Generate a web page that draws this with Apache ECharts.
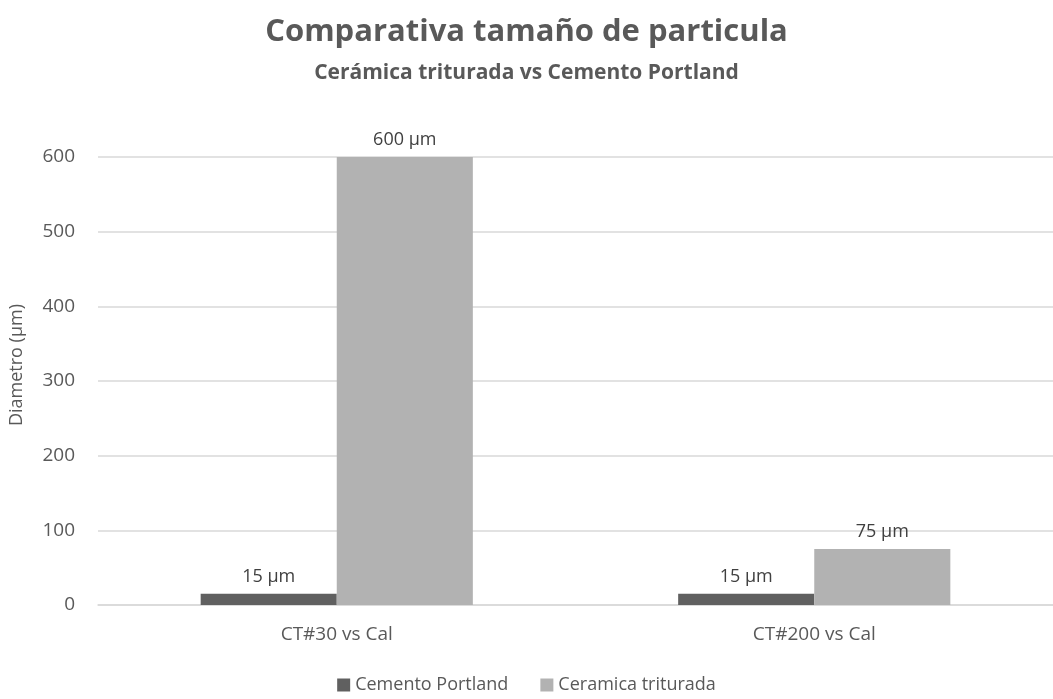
<!DOCTYPE html>
<html>
<head>
<meta charset="utf-8">
<script src="https://cdn.jsdelivr.net/npm/echarts@6/dist/echarts.min.js"></script>
<style>
  html, body { margin: 0; padding: 0; background: #fff; }
  #chart { width: 1053px; height: 699px; }
</style>
</head>
<body>
<div id="chart"></div>
<script>
// datos
const categories = ['CT#30 vs Cal', 'CT#200 vs Cal']
const cementoPortland = [15, 15]
const ceramicaTriturada = [600, 75]
const yTicks = [0, 100, 200, 300, 400, 500, 600]

const font = '"Open Sans", "Liberation Sans", sans-serif'
const labelStyle = {
  show: true,
  position: 'top',
  distance: 8,
  formatter: '{c} µm',
  color: '#404040',
  fontSize: 18,
  fontFamily: font
}

const chart = echarts.init(document.getElementById('chart'))
chart.setOption({
  animation: false,
  textStyle: { fontFamily: font },
  title: [{
    text: 'Comparativa tamaño de particula',
    left: 'center',
    top: 12,
    textStyle: { color: '#595959', fontSize: 31, fontWeight: 'bold', fontFamily: font }
  }, {
    text: 'Cerámica triturada vs Cemento Portland',
    left: 'center',
    top: 58,
    textStyle: { color: '#595959', fontSize: 21, fontWeight: 'bold', fontFamily: font }
  }],
  legend: {
    bottom: 0,
    left: 'center',
    itemWidth: 13,
    itemHeight: 13,
    itemGap: 32,
    icon: 'rect',
    textStyle: { color: '#595959', fontSize: 18, fontFamily: font },
    data: ['Cemento Portland', 'Ceramica triturada']
  },
  grid: {
    left: 98,
    right: 0,
    top: 157,
    bottom: 94
  },
  xAxis: {
    type: 'category',
    data: categories,
    axisLine: { lineStyle: { color: '#d9d9d9', width: 1.5 } },
    axisTick: { show: false },
    axisLabel: { color: '#595959', fontSize: 19, margin: 20, fontFamily: font }
  },
  yAxis: {
    type: 'value',
    min: yTicks[0],
    max: yTicks[yTicks.length - 1],
    interval: 100,
    name: 'Diametro (µm)',
    nameLocation: 'middle',
    nameGap: 72,
    nameTextStyle: { color: '#595959', fontSize: 18, fontFamily: font, padding: [0, 0, 0, 32] },
    axisLine: { show: false },
    axisTick: { show: false },
    axisLabel: { color: '#595959', fontSize: 19, margin: 23, fontFamily: font },
    splitLine: { lineStyle: { color: '#d9d9d9', width: 1.5 } }
  },
  series: [{
    name: 'Cemento Portland',
    type: 'bar',
    data: cementoPortland,
    barGap: '0%',
    barCategoryGap: '43%',
    itemStyle: { color: '#606060' },
    label: labelStyle
  }, {
    name: 'Ceramica triturada',
    type: 'bar',
    data: ceramicaTriturada,
    barGap: '0%',
    barCategoryGap: '43%',
    itemStyle: { color: '#b2b2b2' },
    label: labelStyle
  }]
})
</script>
</body>
</html>
